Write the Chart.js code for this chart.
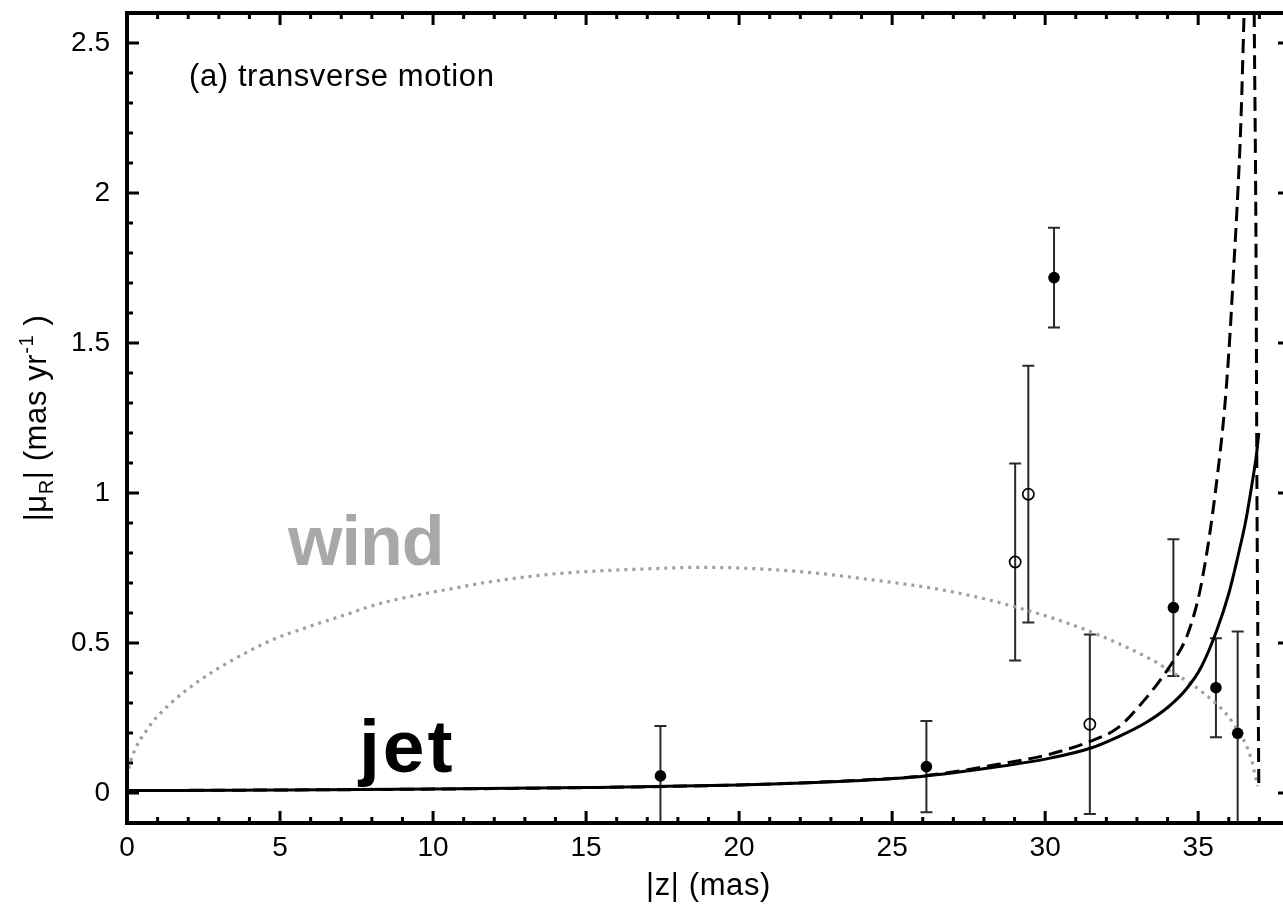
<!DOCTYPE html>
<html>
<head>
<meta charset="utf-8">
<title>transverse motion</title>
<script src="https://cdn.jsdelivr.net/npm/chart.js@4.4.1/dist/chart.umd.min.js"></script>
<style>
  html, body { margin: 0; padding: 0; background: #fff; overflow: hidden; }
  #wrap { width: 1300px; height: 908px; }
</style>
</head>
<body>
<div id="wrap"><canvas id="motionChart" width="1300" height="908"></canvas></div>
<script>
// axis tick labels
const zTicks = [0, 5, 10, 15, 20, 25, 30, 35];
const muTicks = [0, 0.5, 1, 1.5, 2, 2.5];

// measured components, filled markers (value and symmetric error)
const zFilled = [17.43, 26.12, 30.29, 34.19, 35.58, 36.29];
const muFilled = [0.057, 0.088, 1.718, 0.618, 0.351, 0.199];
const errFilled = [0.166, 0.152, 0.166, 0.228, 0.165, 0.339];

// measured components, open markers
const zOpen = [29.02, 29.45, 31.46];
const muOpen = [0.77, 0.996, 0.229];
const errOpen = [0.328, 0.428, 0.299];

// jet model, solid
const zJet = [0, 5, 10, 15, 20, 23.6, 26.1, 28.5, 30.2, 31.5, 32.4, 33.3, 34.0, 34.6, 35.1, 35.6, 36.0, 36.3, 36.55, 36.75, 36.9, 36.98];
const muJet = [0.008, 0.010, 0.013, 0.018, 0.027, 0.040, 0.057, 0.088, 0.117, 0.150, 0.188, 0.235, 0.285, 0.345, 0.420, 0.540, 0.665, 0.790, 0.905, 1.025, 1.125, 1.200];

// jet model, dashed
const zJetDash = [0, 5, 10, 15, 20, 23.6, 26.1, 28.55, 30.18, 31.49, 32.37, 33.22, 34.04, 34.6, 34.92, 35.09, 35.35, 35.63, 35.87, 36.04, 36.16, 36.27, 36.4, 36.5];
const muJetDash = [0.008, 0.010, 0.013, 0.018, 0.027, 0.041, 0.058, 0.097, 0.130, 0.173, 0.217, 0.307, 0.417, 0.515, 0.615, 0.690, 0.845, 1.060, 1.290, 1.530, 1.750, 1.950, 2.250, 2.600];

// dashed branch near the edge
const zBranch = [36.83, 36.89, 36.92, 36.95, 36.98];
const muBranch = [2.6, 1.8, 1.0, 0.5, 0.03];

// wind model, dotted
const zWind = [0, 0.12, 0.7, 1.4, 2.34, 3.5, 4.67, 5.84, 7.01, 8.18, 9.34, 10.51, 11.68, 12.85, 14.02, 15.76, 17.52, 18.5, 20, 22, 24, 26.9, 29.1, 31.3, 33.45, 34.0, 35.09, 36.17, 36.72, 36.94];
const muWind = [0.055, 0.107, 0.218, 0.296, 0.373, 0.446, 0.507, 0.551, 0.59, 0.629, 0.657, 0.679, 0.701, 0.718, 0.731, 0.742, 0.749, 0.752, 0.75, 0.738, 0.715, 0.672, 0.618, 0.545, 0.446, 0.412, 0.34, 0.229, 0.118, 0.023];

const FONT = '"Liberation Sans", Arial, Helvetica, sans-serif';
const pts = (xs, ys) => xs.map((x, i) => ({ x: x, y: ys[i] }));

const curve = (data, extra) => Object.assign({
  data: data,
  showLine: true,
  pointRadius: 0,
  pointHoverRadius: 0,
  borderColor: "#000",
  borderWidth: 3,
  fill: false,
  cubicInterpolationMode: "monotone",
  order: 2,
}, extra);

// error bars, frame, inward ticks and labels
const decorations = {
  id: "decorations",
  beforeDatasetsDraw(chart) {
    const { ctx, chartArea: a, scales: { x, y } } = chart;
    ctx.save();
    ctx.beginPath();
    ctx.rect(a.left, a.top, a.right - a.left, a.bottom - a.top);
    ctx.clip();
    ctx.strokeStyle = "#2a2a2a";
    ctx.lineWidth = 2;
    const bars = (zs, mus, errs) => zs.forEach((z, i) => {
      const px = x.getPixelForValue(z);
      const top = y.getPixelForValue(mus[i] + errs[i]);
      const bot = y.getPixelForValue(mus[i] - errs[i]);
      ctx.beginPath();
      ctx.moveTo(px, top);
      ctx.lineTo(px, bot);
      ctx.moveTo(px - 6, top);
      ctx.lineTo(px + 6, top);
      ctx.moveTo(px - 6, bot);
      ctx.lineTo(px + 6, bot);
      ctx.stroke();
    });
    bars(zFilled, muFilled, errFilled);
    bars(zOpen, muOpen, errOpen);
    ctx.restore();
  },
  afterDraw(chart) {
    const { ctx, chartArea: a, scales: { x, y } } = chart;
    ctx.save();
    ctx.strokeStyle = "#000";

    // ticks on all four sides, pointing inward
    ctx.lineWidth = 3;
    ctx.beginPath();
    for (let v = 1; v < 38; v++) {
      const len = v % 5 === 0 ? 12 : 6;
      const px = x.getPixelForValue(v);
      ctx.moveTo(px, a.bottom);
      ctx.lineTo(px, a.bottom - len);
      ctx.moveTo(px, a.top);
      ctx.lineTo(px, a.top + len);
    }
    for (let k = 0; k <= 25; k++) {
      const len = k % 5 === 0 ? 12 : 6;
      const py = y.getPixelForValue(k / 10);
      ctx.moveTo(a.left, py);
      ctx.lineTo(a.left + len, py);
      ctx.moveTo(a.right, py);
      ctx.lineTo(a.right - len, py);
    }
    ctx.stroke();

    ctx.lineWidth = 4;
    ctx.strokeRect(a.left, a.top, a.right - a.left, a.bottom - a.top);

    // panel caption
    ctx.fillStyle = "#000";
    ctx.letterSpacing = "0.6px";
    ctx.font = "31px " + FONT;
    ctx.textAlign = "left";
    ctx.textBaseline = "alphabetic";
    ctx.fillText("(a) transverse motion", 189, 86);

    // x title
    ctx.textAlign = "center";
    ctx.fillText("|z| (mas)", (a.left + a.right) / 2, 895);

    // y title with subscript and superscript
    const parts = [
      { t: "|\u03bc", size: 31, dy: 0 },
      { t: "R", size: 20, dy: 7 },
      { t: "| (mas yr", size: 31, dy: 0 },
      { t: "-1", size: 20, dy: -13 },
      { t: " )", size: 31, dy: 0 },
    ];
    let total = 0;
    parts.forEach(p => {
      ctx.font = p.size + "px " + FONT;
      p.w = ctx.measureText(p.t).width;
      total += p.w;
    });
    ctx.translate(36, (a.top + a.bottom) / 2);
    ctx.rotate(-Math.PI / 2);
    ctx.textAlign = "left";
    let cx = -total / 2;
    parts.forEach(p => {
      ctx.font = p.size + "px " + FONT;
      ctx.fillText(p.t, cx, 10 + p.dy);
      cx += p.w;
    });
    ctx.setTransform(1, 0, 0, 1, 0, 0);

    // curve labels
    ctx.textAlign = "left";
    ctx.letterSpacing = "-1px";
    ctx.font = "bold 70px " + FONT;
    ctx.fillStyle = "#a7a9a8";
    ctx.fillText("wind", 288, 565);
    ctx.letterSpacing = "3px";
    ctx.fillStyle = "#000";
    ctx.font = "bold 75px " + FONT;
    ctx.fillText("jet", 359, 772);
    ctx.restore();
  },
};

new Chart(document.getElementById("motionChart"), {
  type: "scatter",
  data: {
    datasets: [
      {
        data: pts(zFilled, muFilled),
        pointRadius: 5.8,
        pointHoverRadius: 5.8,
        pointBackgroundColor: "#000",
        pointBorderWidth: 0,
        order: 0,
      },
      {
        data: pts(zOpen, muOpen),
        pointRadius: 5.6,
        pointHoverRadius: 5.6,
        pointBackgroundColor: "rgba(0,0,0,0)",
        pointBorderColor: "#000",
        pointBorderWidth: 1.7,
        order: 0,
      },
      curve(pts(zJet, muJet), {}),
      curve(pts(zJetDash, muJetDash), { borderDash: [14, 7] }),
      curve(pts(zBranch, muBranch), { borderDash: [14, 7] }),
      curve(pts(zWind, muWind), { borderColor: "#9f9f9f", borderWidth: 3.2, borderDash: [3, 5], borderCapStyle: "butt", order: 3 }),
    ],
  },
  options: {
    responsive: false,
    animation: false,
    devicePixelRatio: 1,
    layout: { padding: { top: 13, right: 10, left: 0, bottom: 0 } },
    plugins: {
      legend: { display: false },
      tooltip: { enabled: false },
    },
    scales: {
      x: {
        type: "linear",
        min: 0,
        max: 38,
        grid: { display: false, drawTicks: false },
        border: { display: false },
        ticks: {
          padding: 8,
          color: "#000",
          font: { family: FONT, size: 28 },
          callback: (v) => String(v),
        },
        afterBuildTicks: (scale) => { scale.ticks = zTicks.map(v => ({ value: v })); },
        afterFit: (scale) => {
          scale.height = 85;
          scale.paddingLeft = 0;
          scale.paddingRight = 0;
        },
      },
      y: {
        type: "linear",
        min: -0.1,
        max: 2.6,
        grid: { display: false, drawTicks: false },
        border: { display: false },
        ticks: {
          padding: 17,
          color: "#000",
          font: { family: FONT, size: 28 },
          callback: (v) => String(v),
        },
        afterBuildTicks: (scale) => { scale.ticks = muTicks.map(v => ({ value: v })); },
        afterFit: (scale) => {
          scale.width = 127;
          scale.paddingTop = 0;
          scale.paddingBottom = 0;
        },
      },
    },
  },
  plugins: [decorations],
});
</script>
</body>
</html>
